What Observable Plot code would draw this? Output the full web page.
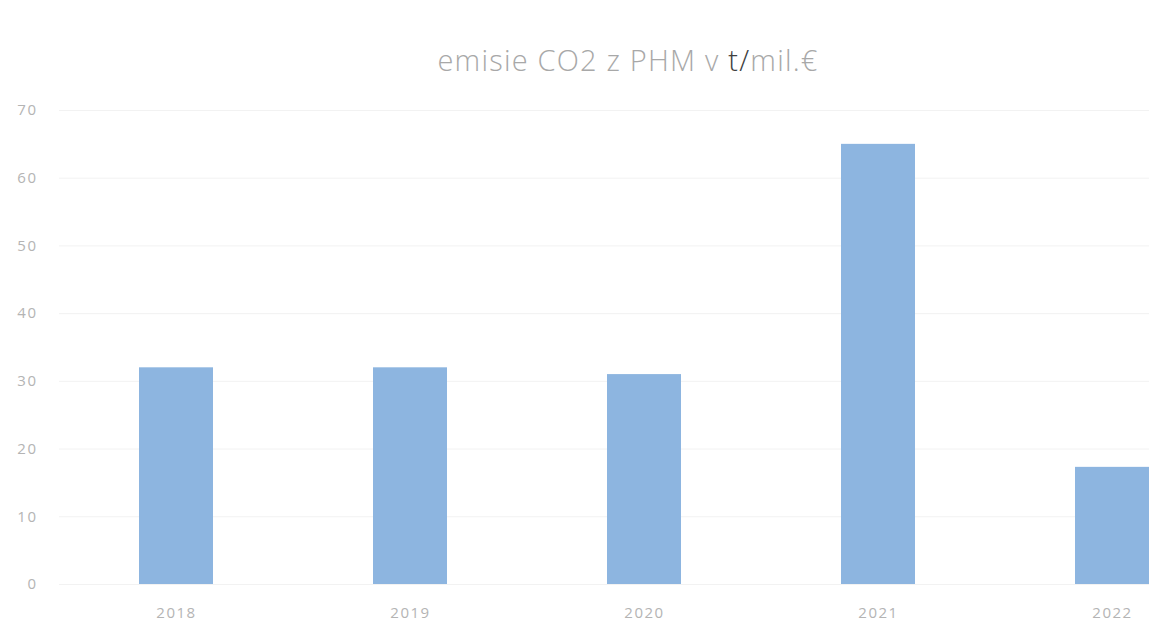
<!DOCTYPE html>
<html>
<head>
<meta charset="utf-8">
<script src="https://cdn.jsdelivr.net/npm/d3@7"></script>
<script src="https://cdn.jsdelivr.net/npm/@observablehq/plot@0.6"></script>
<style>
  html, body { margin: 0; padding: 0; background: #fff; overflow: hidden; width: 1149px; height: 624px; }
  #title { position: absolute; left: 0; top: 0; width: 1256px; height: 90px; }
  #title div { position: absolute; left: 0; width: 1256px; top: 40px; text-align: center; font-family: "Open Sans", sans-serif; font-size: 29px; letter-spacing: 1.2px; color: #a8a8a8; font-weight: 300; }
  #title span { color: #404040; }
  #chart { position: absolute; left: 0; top: 90px; width: 1240px; }
  #chart svg { max-width: none !important; }
  #chart svg text { letter-spacing: 1.5px; }
</style>
</head>
<body>
<div id="title"><div>emisie CO2 z PHM v <span>t/</span>mil.€</div></div>
<div id="chart"></div>
<script>
const years = ["2018", "2019", "2020", "2021", "2022"];
const emissions = [32, 32, 31, 65, 17.3];
const yTicks = [0, 10, 20, 30, 40, 50, 60, 70];

const data = years.map((y, i) => ({year: y, value: emissions[i]}));

const plot = Plot.plot({
  width: 1240,
  height: 534,
  marginLeft: 59,
  marginRight: 11,
  marginTop: 20,
  marginBottom: 40,
  style: {fontFamily: "Open Sans, sans-serif", fontSize: "15px", color: "#b4b4b4", background: "#fff", maxWidth: "none"},
  x: {domain: years, paddingInner: 0.685, paddingOuter: 0.3425, label: null},
  y: {domain: [0, 70], ticks: yTicks, label: null},
  marks: [
    Plot.gridY(yTicks, {stroke: "#f2f2f2", strokeOpacity: 1}),
    Plot.barY(data, {x: "year", y: "value", fill: "#8db5e0"}),
    Plot.axisY(yTicks, {tickSize: 0, tickPadding: 22, label: null, fill: "#b4b4b4", fontSize: 15}),
    Plot.axisX({tickSize: 0, tickPadding: 23, label: null, fill: "#b4b4b4", fontSize: 15})
  ]
});
document.getElementById("chart").appendChild(plot);
</script>
</body>
</html>
